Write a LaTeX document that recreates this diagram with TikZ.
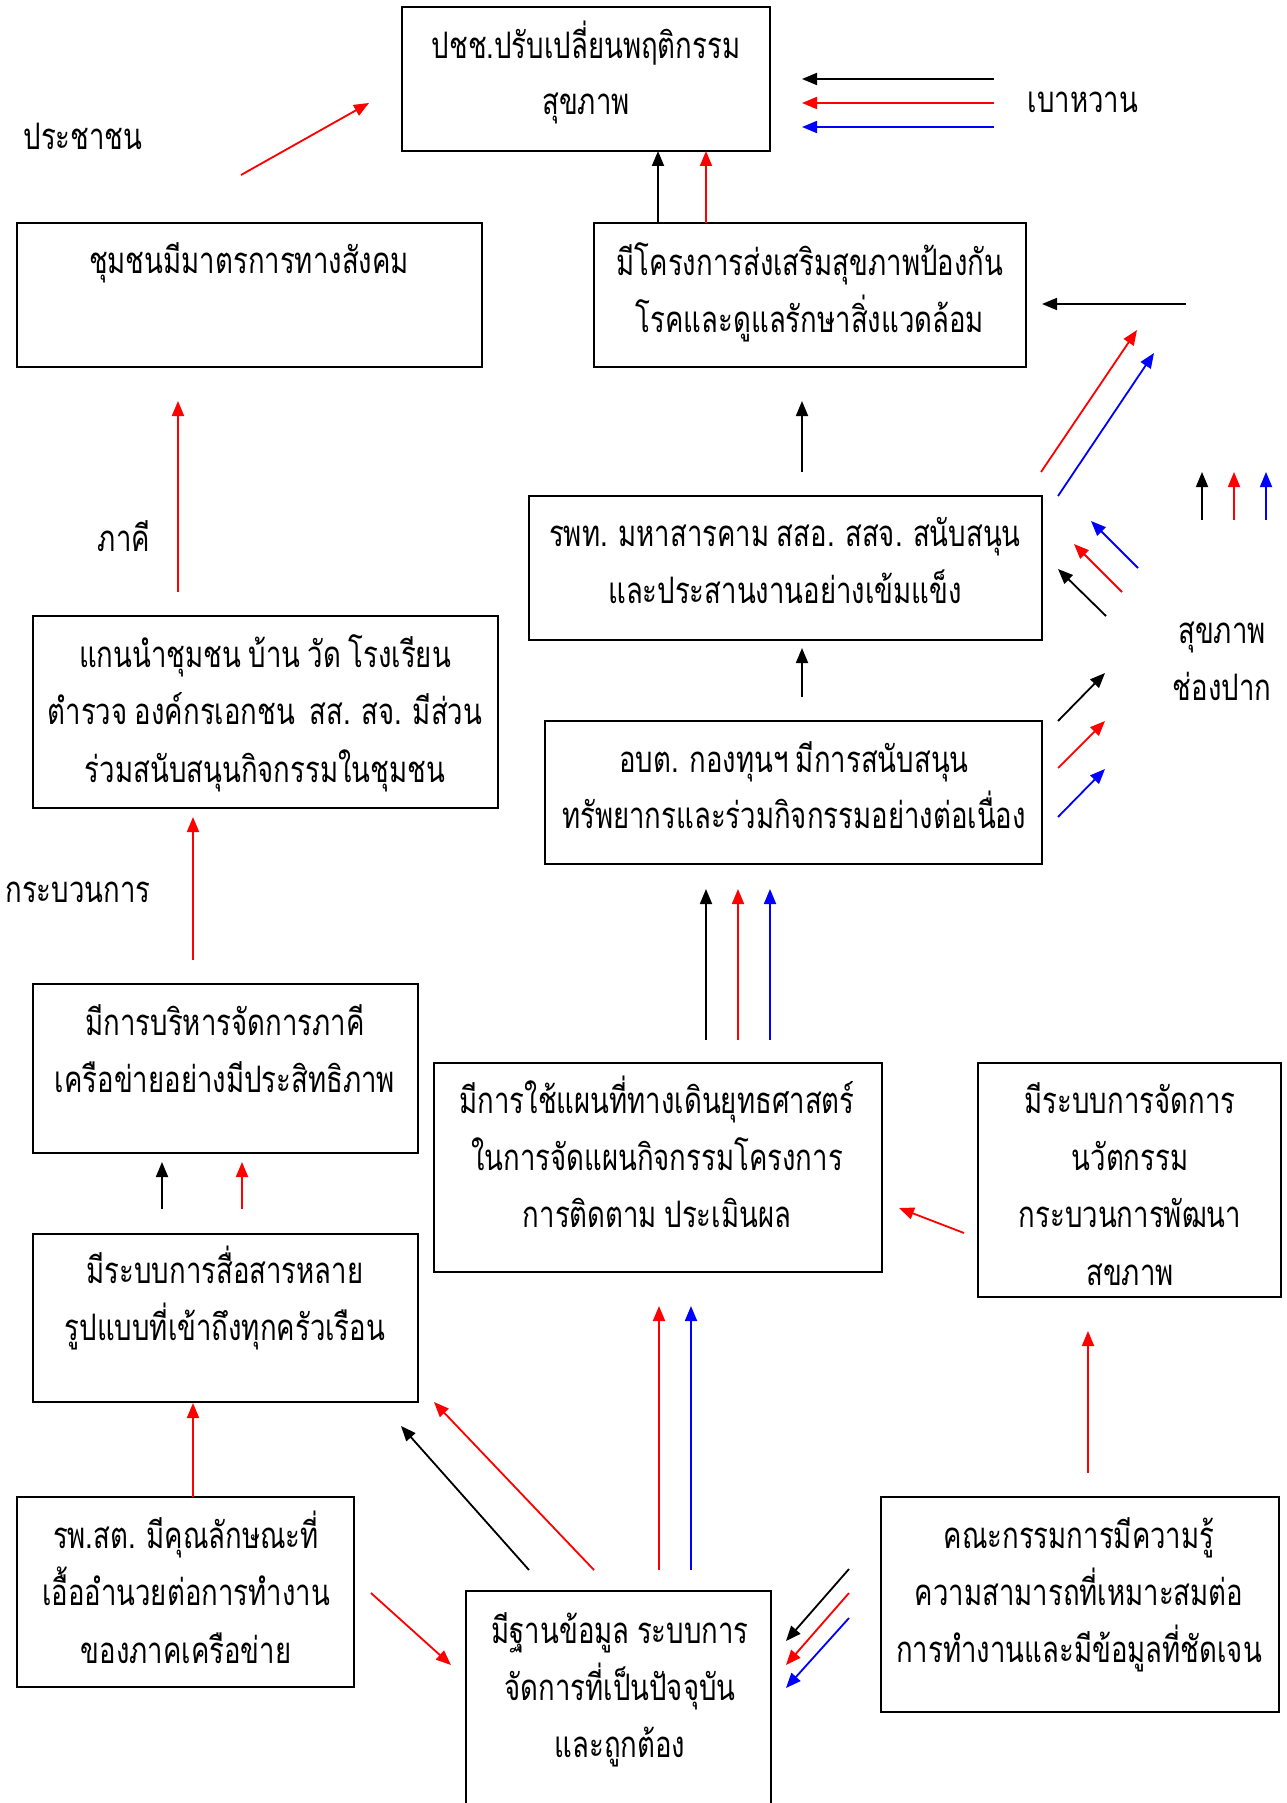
\documentclass[tikz,border=0pt]{standalone}
\usepackage{fontspec}
\newfontfamily\thaifont[Script=Thai,FakeStretch=0.755,WordSpace=0.8]{Loma}
\usetikzlibrary{arrows.meta}
\definecolor{cred}{RGB}{255,0,0}
\definecolor{cblue}{RGB}{0,0,255}
\begin{document}
\begin{tikzpicture}[x=1pt,y=-1pt,
  box/.style={draw, line width=2pt, rectangle, inner sep=0pt},
  txt/.style={anchor=base, inner sep=0pt, font=\thaifont\fontsize{36.5}{40}\selectfont},
  arr/.style={line width=1.8pt, -{Triangle[length=15pt,width=12pt]}},
  ablack/.style={arr, draw=black},
  ared/.style={arr, draw=cred, fill=cred},
  ablue/.style={arr, draw=cblue, fill=cblue}
]
\useasboundingbox (0,0) rectangle (1286,1803);
\fill[white] (0,0) rectangle (1286,1803);
\clip (0,0) rectangle (1286,1803);

% boxes
\node[box, minimum width=368pt, minimum height=144pt] (b1) at (586,79) {};
\node[box, minimum width=465pt, minimum height=144pt] (b2) at (249.5,295) {};
\node[box, minimum width=432pt, minimum height=144pt] (b3) at (810,295) {};
\node[box, minimum width=513pt, minimum height=144pt] (b4) at (785.5,568) {};
\node[box, minimum width=465pt, minimum height=192pt] (b5) at (265.5,712) {};
\node[box, minimum width=497pt, minimum height=143pt] (b6) at (793.5,792.5) {};
\node[box, minimum width=385pt, minimum height=169pt] (b7) at (225.5,1068.5) {};
\node[box, minimum width=448pt, minimum height=209pt] (b8) at (658,1167.5) {};
\node[box, minimum width=303pt, minimum height=234pt] (b9) at (1129.5,1180) {};
\node[box, minimum width=385pt, minimum height=168pt] (b10) at (225.5,1318) {};
\node[box, minimum width=337pt, minimum height=190pt] (b11) at (185.5,1592) {};
\node[box, minimum width=305pt, minimum height=239pt] (b12) at (618.5,1710.5) {};
\node[box, minimum width=398pt, minimum height=215pt] (b13) at (1080,1604.5) {};

% box texts
\node[txt] (t1a) at (586,59) {ปชช.ปรับเปลี่ยนพฤติกรรม};
\node[txt] (t1b) at (586,115) {สุขภาพ};
\node[txt] (t2a) at (249,273) {ชุมชนมีมาตรการทางสังคม};
\node[txt] (t3a) at (810,275) {มีโครงการส่งเสริมสุขภาพป้องกัน};
\node[txt] (t3b) at (810,332) {โรคและดูแลรักษาสิ่งแวดล้อม};
\node[txt] (t4a) at (785,546) {รพท. มหาสารคาม สสอ. สสจ. สนับสนุน};
\node[txt] (t4b) at (785,603) {และประสานงานอย่างเข้มแข็ง};
\node[txt] (t5a) at (265,667) {แกนนำชุมชน บ้าน วัด โรงเรียน};
\node[txt] (t5b) at (265,724) {ตำรวจ องค์กรเอกชน~ สส. สจ. มีส่วน};
\node[txt] (t5c) at (265,782) {ร่วมสนับสนุนกิจกรรมในชุมชน};
\node[txt] (t6a) at (794,772) {อบต. กองทุนฯ มีการสนับสนุน};
\node[txt] (t6b) at (794,828) {ทรัพยากรและร่วมกิจกรรมอย่างต่อเนื่อง};
\node[txt] (t7a) at (225,1035) {มีการบริหารจัดการภาคี};
\node[txt] (t7b) at (225,1092) {เครือข่ายอย่างมีประสิทธิภาพ};
\node[txt] (t8a) at (657,1113) {มีการใช้แผนที่ทางเดินยุทธศาสตร์};
\node[txt] (t8b) at (657,1170) {ในการจัดแผนกิจกรรมโครงการ};
\node[txt] (t8c) at (657,1227) {การติดตาม ประเมินผล};
\node[txt] (t9a) at (1130,1113) {มีระบบการจัดการ};
\node[txt] (t9b) at (1130,1170) {นวัตกรรม};
\node[txt] (t9c) at (1130,1227) {กระบวนการพัฒนา};
\node[txt] (t9d) at (1130,1285) {สขภาพ};
\node[txt] (t10a) at (225,1283) {มีระบบการสื่อสารหลาย};
\node[txt] (t10b) at (225,1340) {รูปแบบที่เข้าถึงทุกครัวเรือน};
\node[txt] (t11a) at (186,1548) {รพ.สต. มีคุณลักษณะที่};
\node[txt] (t11b) at (186,1605) {เอื้ออำนวยต่อการทำงาน};
\node[txt] (t11c) at (186,1663) {ของภาคเครือข่าย};
\node[txt] (t12a) at (620,1643) {มีฐานข้อมูล ระบบการ};
\node[txt] (t12b) at (620,1700) {จัดการที่เป็นปัจจุบัน};
\node[txt] (t12c) at (620,1757) {และถูกต้อง};
\node[txt] (t13a) at (1079,1548) {คณะกรรมการมีความรู้};
\node[txt] (t13b) at (1079,1605) {ความสามารถที่เหมาะสมต่อ};
\node[txt] (t13c) at (1079,1662) {การทำงานและมีข้อมูลที่ชัดเจน};

% free labels
\node[txt] (l1) at (83,150) {ประชาชน};
\node[txt] (l2) at (1083,113) {เบาหวาน};
\node[txt] (l3) at (124,551) {ภาคี};
\node[txt] (l4) at (78,902) {กระบวนการ};
\node[txt] (l5) at (1222,643) {สุขภาพ};
\node[txt] (l6) at (1222,700) {ช่องปาก};

% coordinates
\coordinate (lg1s) at (994,79);  \coordinate (lg1e) at (802,79);
\coordinate (lg2s) at (994,103); \coordinate (lg2e) at (802,103);
\coordinate (lg3s) at (994,127); \coordinate (lg3e) at (802,127);
\coordinate (p1s) at (241,175);  \coordinate (p1e) at (369,103);
\coordinate (u1s) at (658,223);  \coordinate (u1e) at (658,151);
\coordinate (u2s) at (706,223);  \coordinate (u2e) at (706,151);
\coordinate (h1s) at (1186,304); \coordinate (h1e) at (1042,304);
\coordinate (d1s) at (1041,472); \coordinate (d1e) at (1137,330);
\coordinate (d2s) at (1058,496); \coordinate (d2e) at (1154,353);
\coordinate (u3s) at (802,472);  \coordinate (u3e) at (802,401);
\coordinate (g1s) at (1202,520); \coordinate (g1e) at (1202,472);
\coordinate (g2s) at (1234,520); \coordinate (g2e) at (1234,472);
\coordinate (g3s) at (1266,520); \coordinate (g3e) at (1266,472);
\coordinate (r1s) at (1106,616); \coordinate (r1e) at (1058,569);
\coordinate (r2s) at (1122,592); \coordinate (r2e) at (1074,544);
\coordinate (r3s) at (1138,568); \coordinate (r3e) at (1091,521);
\coordinate (q1s) at (1058,721); \coordinate (q1e) at (1105,673);
\coordinate (q2s) at (1058,768); \coordinate (q2e) at (1105,721);
\coordinate (q3s) at (1058,817); \coordinate (q3e) at (1105,769);
\coordinate (u4s) at (802,697);  \coordinate (u4e) at (802,648);
\coordinate (u5s) at (706,1040); \coordinate (u5e) at (706,889);
\coordinate (u6s) at (738,1040); \coordinate (u6e) at (738,889);
\coordinate (u7s) at (770,1040); \coordinate (u7e) at (770,889);
\coordinate (u8s) at (178,592);  \coordinate (u8e) at (178,401);
\coordinate (u9s) at (193,960);  \coordinate (u9e) at (193,817);
\coordinate (u10s) at (162,1209); \coordinate (u10e) at (162,1162);
\coordinate (u11s) at (242,1209); \coordinate (u11e) at (242,1162);
\coordinate (u12s) at (193,1497); \coordinate (u12e) at (193,1403);
\coordinate (k1s) at (529,1570); \coordinate (k1e) at (401,1426);
\coordinate (k2s) at (594,1570); \coordinate (k2e) at (434,1402);
\coordinate (u13s) at (659,1570); \coordinate (u13e) at (659,1306);
\coordinate (u14s) at (691,1570); \coordinate (u14e) at (691,1306);
\coordinate (m1s) at (964,1233); \coordinate (m1e) at (899,1208);
\coordinate (u15s) at (1088,1473); \coordinate (u15e) at (1088,1331);
\coordinate (c1s) at (849,1569); \coordinate (c1e) at (786,1641);
\coordinate (c2s) at (849,1593); \coordinate (c2e) at (786,1665);
\coordinate (c3s) at (849,1618); \coordinate (c3e) at (786,1688);
\coordinate (s1s) at (371,1593); \coordinate (s1e) at (451,1665);

% arrows
\draw[ablack] (lg1s) -- (lg1e);
\draw[ared] (lg2s) -- (lg2e);
\draw[ablue] (lg3s) -- (lg3e);
\draw[ared] (p1s) -- (p1e);
\draw[ablack] (u1s) -- (u1e);
\draw[ared] (u2s) -- (u2e);
\draw[ablack] (h1s) -- (h1e);
\draw[ared] (d1s) -- (d1e);
\draw[ablue] (d2s) -- (d2e);
\draw[ablack] (u3s) -- (u3e);
\draw[ablack] (g1s) -- (g1e);
\draw[ared] (g2s) -- (g2e);
\draw[ablue] (g3s) -- (g3e);
\draw[ablack] (r1s) -- (r1e);
\draw[ared] (r2s) -- (r2e);
\draw[ablue] (r3s) -- (r3e);
\draw[ablack] (q1s) -- (q1e);
\draw[ared] (q2s) -- (q2e);
\draw[ablue] (q3s) -- (q3e);
\draw[ablack] (u4s) -- (u4e);
\draw[ablack] (u5s) -- (u5e);
\draw[ared] (u6s) -- (u6e);
\draw[ablue] (u7s) -- (u7e);
\draw[ared] (u8s) -- (u8e);
\draw[ared] (u9s) -- (u9e);
\draw[ablack] (u10s) -- (u10e);
\draw[ared] (u11s) -- (u11e);
\draw[ared] (u12s) -- (u12e);
\draw[ablack] (k1s) -- (k1e);
\draw[ared] (k2s) -- (k2e);
\draw[ared] (u13s) -- (u13e);
\draw[ablue] (u14s) -- (u14e);
\draw[ared] (m1s) -- (m1e);
\draw[ared] (u15s) -- (u15e);
\draw[ablack] (c1s) -- (c1e);
\draw[ared] (c2s) -- (c2e);
\draw[ablue] (c3s) -- (c3e);
\draw[ared] (s1s) -- (s1e);
\end{tikzpicture}
\end{document}
